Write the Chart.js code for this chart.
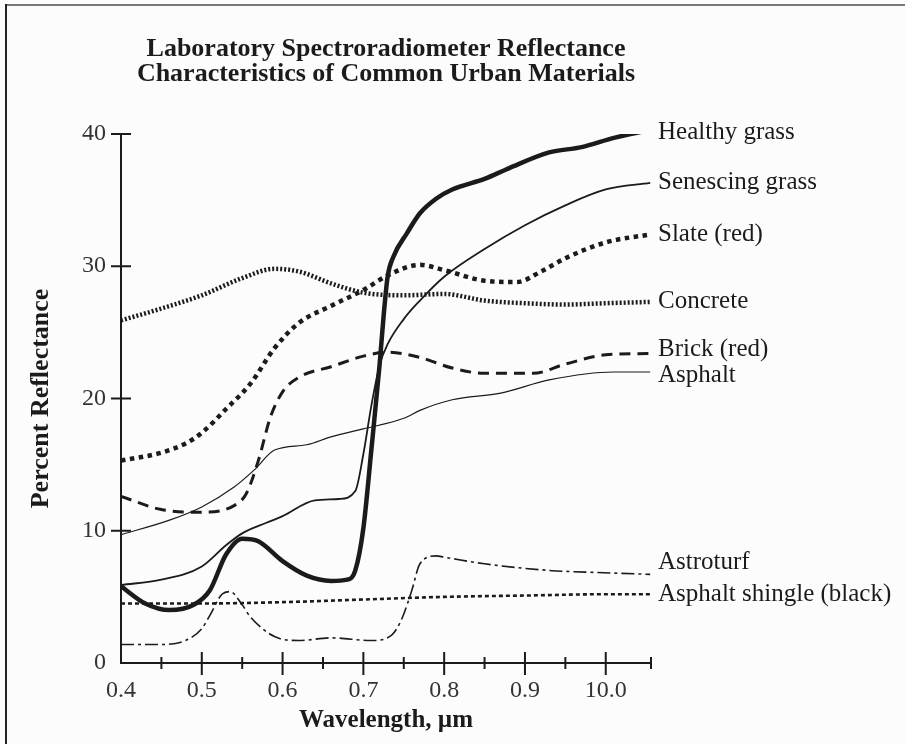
<!DOCTYPE html>
<html>
<head>
<meta charset="utf-8">
<title>Urban materials reflectance</title>
<script src="https://cdn.jsdelivr.net/npm/chart.js@4.4.1/dist/chart.umd.min.js"></script>
<style>
  html, body { margin: 0; padding: 0; background: #fcfcfc; }
  #wrap { width: 905px; height: 744px; }
</style>
</head>
<body>
<div id="wrap"><canvas id="reflectanceChart" width="905" height="744"></canvas></div>
<script>
// tick labels (the "10.0" is printed that way on the original figure)
const tickValues = [0.4, 0.5, 0.6, 0.7, 0.8, 0.9, 1.0];
const tickLabels = ['0.4', '0.5', '0.6', '0.7', '0.8', '0.9', '10.0'];
const minorTicks = [0.45, 0.55, 0.65, 0.75, 0.85, 0.95, 1.056];
const yTicks = [0, 10, 20, 30, 40];

// wavelength (um) / percent reflectance
const healthyX = [0.40, 0.43, 0.46, 0.49, 0.51, 0.53, 0.55, 0.57, 0.60, 0.63, 0.66, 0.68, 0.69, 0.70, 0.71, 0.72, 0.725, 0.73, 0.737, 0.754, 0.77, 0.79, 0.81, 0.85, 0.88, 0.93, 0.97, 1.01, 1.055];
const healthyY = [5.8, 4.5, 4.0, 4.4, 5.5, 8.2, 9.4, 9.2, 7.7, 6.6, 6.2, 6.3, 7.0, 10.2, 16.2, 22.5, 26.2, 29.2, 30.7, 32.5, 34.0, 35.1, 35.8, 36.6, 37.4, 38.6, 39.0, 39.7, 40.3];

const senescX = [0.40, 0.45, 0.50, 0.53, 0.55, 0.58, 0.60, 0.64, 0.67, 0.69, 0.70, 0.71, 0.72, 0.73, 0.75, 0.77, 0.80, 0.85, 0.90, 0.95, 1.00, 1.055];
const senescY = [5.9, 6.3, 7.3, 8.9, 9.8, 10.6, 11.1, 12.3, 12.4, 13.0, 15.8, 19.5, 22.5, 24.1, 26.0, 27.4, 29.2, 31.3, 33.1, 34.6, 35.8, 36.3];

const slateX = [0.40, 0.45, 0.48, 0.50, 0.53, 0.56, 0.59, 0.62, 0.66, 0.70, 0.73, 0.77, 0.80, 0.85, 0.89, 0.92, 0.95, 1.00, 1.055];
const slateY = [15.3, 15.9, 16.6, 17.4, 19.2, 21.1, 23.8, 25.7, 27.0, 28.2, 29.3, 30.1, 29.7, 28.9, 28.8, 29.6, 30.6, 31.8, 32.4];

const concreteX = [0.40, 0.45, 0.50, 0.55, 0.59, 0.62, 0.66, 0.70, 0.75, 0.80, 0.85, 0.90, 0.95, 1.00, 1.055];
const concreteY = [25.9, 26.8, 27.8, 29.1, 29.8, 29.6, 28.7, 28.0, 27.8, 27.9, 27.4, 27.2, 27.1, 27.2, 27.3];

const brickX = [0.40, 0.45, 0.50, 0.54, 0.555, 0.57, 0.585, 0.60, 0.62, 0.66, 0.70, 0.73, 0.77, 0.81, 0.85, 0.91, 0.95, 1.00, 1.055];
const brickY = [12.6, 11.6, 11.4, 11.9, 12.8, 15.3, 18.6, 20.5, 21.6, 22.4, 23.2, 23.5, 23.1, 22.3, 21.9, 21.9, 22.6, 23.3, 23.4];

const asphaltX = [0.40, 0.46, 0.50, 0.54, 0.565, 0.59, 0.63, 0.66, 0.70, 0.75, 0.77, 0.81, 0.87, 0.93, 1.01, 1.055];
const asphaltY = [9.7, 10.8, 11.8, 13.3, 14.6, 16.1, 16.5, 17.1, 17.7, 18.5, 19.1, 19.9, 20.4, 21.4, 22.0, 22.0];

const astroX = [0.40, 0.45, 0.48, 0.50, 0.51, 0.525, 0.535, 0.55, 0.56, 0.59, 0.62, 0.66, 0.71, 0.735, 0.745, 0.75, 0.76, 0.77, 0.79, 0.80, 0.85, 0.93, 1.01, 1.055];
const astroY = [1.4, 1.4, 1.7, 2.6, 3.6, 5.2, 5.4, 4.4, 3.5, 2.0, 1.7, 1.9, 1.7, 2.1, 3.0, 3.7, 5.5, 7.5, 8.1, 8.0, 7.5, 7.0, 6.8, 6.7];

const shingleX = [0.40, 0.50, 0.60, 0.70, 0.80, 0.90, 1.00, 1.055];
const shingleY = [4.5, 4.5, 4.6, 4.8, 5.0, 5.1, 5.2, 5.2];

const INK = '#1b1b1b';
const SERIF = '"Liberation Serif", "DejaVu Serif", serif';

function pts(xs, ys) {
    return xs.map((x, i) => ({ x: x, y: ys[i] }));
}

function line(label, xs, ys, width, dash, labelShift) {
    return {
        label: label,
        data: pts(xs, ys),
        borderColor: INK,
        borderWidth: width,
        borderDash: dash,
        borderCapStyle: 'butt',
        pointRadius: 0,
        fill: false,
        cubicInterpolationMode: 'monotone',
        labelShift: labelShift || 0
    };
}

// paper background + the scan frame
const paperPlugin = {
    id: 'paper',
    beforeDraw(chart) {
        const ctx = chart.ctx;
        ctx.save();
        ctx.fillStyle = '#fcfcfc';
        ctx.fillRect(0, 0, chart.width, chart.height);
        ctx.fillStyle = '#777';
        ctx.fillRect(6, 4, chart.width - 6, 2);
        ctx.fillStyle = '#222';
        ctx.fillRect(5, 4, 2, chart.height - 4);
        ctx.restore();
    }
};

// tick marks that cross the axis lines
const tickPlugin = {
    id: 'crossTicks',
    afterDraw(chart) {
        const ctx = chart.ctx;
        const xs = chart.scales.x, ys = chart.scales.y;
        const axisY = ys.getPixelForValue(0);
        const axisX = xs.getPixelForValue(0.4);
        ctx.save();
        ctx.strokeStyle = INK;
        ctx.lineWidth = 2;
        ctx.beginPath();
        tickValues.slice(1).forEach(v => {
            const px = xs.getPixelForValue(v);
            ctx.moveTo(px, axisY - 11);
            ctx.lineTo(px, axisY + 12);
        });
        minorTicks.forEach(v => {
            const px = xs.getPixelForValue(v);
            ctx.moveTo(px, axisY - 6);
            ctx.lineTo(px, axisY + 6);
        });
        yTicks.slice(1).forEach(v => {
            const py = ys.getPixelForValue(v);
            ctx.moveTo(axisX - 10, py);
            ctx.lineTo(axisX + 10, py);
        });
        ctx.stroke();
        ctx.restore();
    }
};

// series names at the right-hand end of each curve
const endLabelPlugin = {
    id: 'endLabels',
    afterDatasetsDraw(chart) {
        const ctx = chart.ctx;
        ctx.save();
        ctx.font = '25px ' + SERIF;
        ctx.fillStyle = INK;
        ctx.textAlign = 'left';
        ctx.textBaseline = 'middle';
        chart.data.datasets.forEach((ds, i) => {
            const pts = chart.getDatasetMeta(i).data;
            const last = pts[pts.length - 1];
            ctx.fillText(ds.label, chart.chartArea.right + 7, last.y + ds.labelShift);
        });
        ctx.restore();
    }
};

const ctx = document.getElementById('reflectanceChart').getContext('2d');
new Chart(ctx, {
    type: 'line',
    data: {
        datasets: [
            line('Healthy grass', healthyX, healthyY, 4.5, [], 2),
            line('Senescing grass', senescX, senescY, 1.8, []),
            line('Slate (red)', slateX, slateY, 4.5, [4.5, 4.5]),
            line('Concrete', concreteX, concreteY, 4.5, [2, 2]),
            line('Brick (red)', brickX, brickY, 3, [11, 7], -4),
            line('Asphalt', asphaltX, asphaltY, 1.2, [], 3),
            line('Astroturf', astroX, astroY, 1.6, [13, 4, 3, 4], -12),
            line('Asphalt shingle (black)', shingleX, shingleY, 2.6, [4, 3])
        ]
    },
    options: {
        responsive: false,
        animation: false,
        layout: { padding: { left: 0, right: 254, top: 0, bottom: 0 } },
        plugins: {
            legend: { display: false },
            tooltip: { enabled: false },
            title: {
                display: true,
                fullSize: false,
                text: ['Laboratory Spectroradiometer Reflectance', 'Characteristics of Common Urban Materials'],
                color: INK,
                font: { family: SERIF, size: 26, weight: 'bold', lineHeight: 0.96 },
                padding: { top: 37, bottom: 47 }
            }
        },
        scales: {
            x: {
                type: 'linear',
                min: 0.4,
                max: 1.056,
                afterFit(scale) { scale.height = 81; },
                afterBuildTicks(scale) { scale.ticks = tickValues.map(v => ({ value: v })); },
                grid: { display: false, drawTicks: false },
                border: { display: true, color: INK, width: 2 },
                ticks: {
                    color: '#333',
                    font: { family: SERIF, size: 24 },
                    padding: 13,
                    maxRotation: 0,
                    autoSkip: false,
                    callback: (v, i) => tickLabels[i]
                },
                title: {
                    display: true,
                    text: 'Wavelength, \u00b5m',
                    color: INK,
                    font: { family: SERIF, size: 25, weight: 'bold' },
                    padding: { top: 0, bottom: 8 }
                }
            },
            y: {
                min: 0,
                max: 40,
                afterFit(scale) { scale.width = 121; },
                afterBuildTicks(scale) { scale.ticks = yTicks.map(v => ({ value: v })); },
                grid: { display: false, drawTicks: false },
                border: { display: true, color: INK, width: 2 },
                ticks: {
                    color: '#333',
                    font: { family: SERIF, size: 24 },
                    padding: 15
                },
                title: {
                    display: true,
                    text: 'Percent Reflectance',
                    color: INK,
                    font: { family: SERIF, size: 26, weight: 'bold' },
                    padding: { top: 26, bottom: 0 }
                }
            }
        }
    },
    plugins: [paperPlugin, tickPlugin, endLabelPlugin]
});
</script>
</body>
</html>
